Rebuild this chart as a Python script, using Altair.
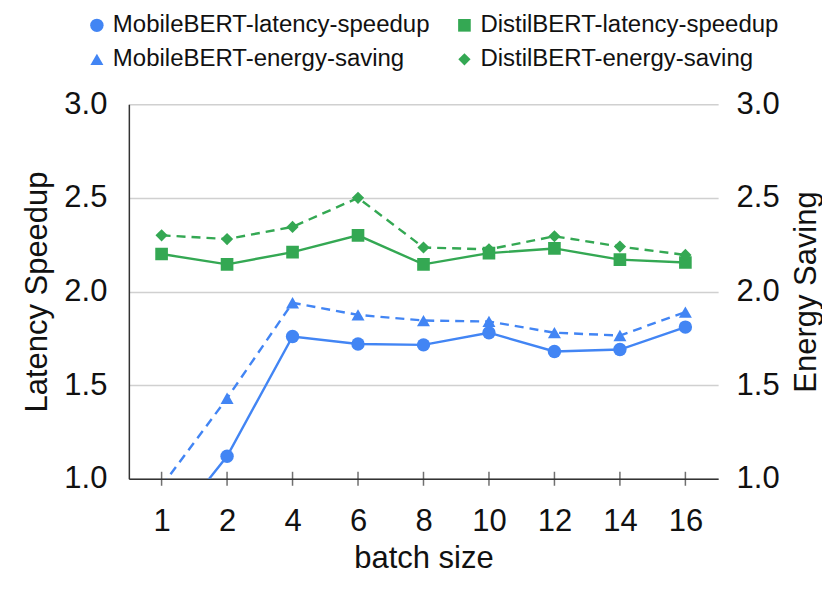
import altair as alt
import pandas as pd

batch = ["1", "2", "4", "6", "8", "10", "12", "14", "16"]
mobile_latency = [0.68, 1.12, 1.76, 1.72, 1.715, 1.78, 1.68, 1.69, 1.81]
distil_latency = [2.20, 2.145, 2.21, 2.30, 2.145, 2.205, 2.23, 2.17, 2.155]
mobile_energy = [0.96, 1.43, 1.94, 1.875, 1.845, 1.84, 1.78, 1.765, 1.89]
distil_energy = [2.30, 2.28, 2.345, 2.50, 2.235, 2.225, 2.295, 2.24, 2.195]

# legend order (filled column by column)
series_names = [
    "MobileBERT-latency-speedup",
    "MobileBERT-energy-saving",
    "DistilBERT-latency-speedup",
    "DistilBERT-energy-saving",
]
colors = ["#4285F4", "#4285F4", "#34A853", "#34A853"]
shapes = ["circle", "triangle-up", "square", "diamond"]
sizes = [180, 150, 75, 320]

rows = []
for name, vals, metric in [
    ("MobileBERT-latency-speedup", mobile_latency, "latency"),
    ("DistilBERT-latency-speedup", distil_latency, "latency"),
    ("MobileBERT-energy-saving", mobile_energy, "energy"),
    ("DistilBERT-energy-saving", distil_energy, "energy"),
]:
    for b, v in zip(batch, vals):
        rows.append({"batch": b, "value": v, "series": name, "metric": metric})
df = pd.DataFrame(rows)
ticks_df = pd.DataFrame({"batch": batch})

FONT = "Liberation Sans"
color_scale = alt.Scale(domain=series_names, range=colors)
shape_scale = alt.Scale(domain=series_names, range=shapes)
size_scale = alt.Scale(domain=series_names, range=sizes)

x_enc = alt.X(
    "batch:O",
    sort=batch,
    scale=alt.Scale(type="point", padding=0.5),
    axis=alt.Axis(
        title="batch size",
        labelAngle=0,
        ticks=False,
        domainColor="#333333",
        domainWidth=1.5,
        labelPadding=28,
        titlePadding=7,
        labelFontSize=31,
        titleFontSize=31,
    ),
)

y_scale = alt.Scale(domain=[1, 3], nice=False, zero=False)
color_enc = alt.Color(
    "series:N",
    scale=color_scale,
    sort=series_names,
    legend=alt.Legend(
        title=None,
        orient="none",
        legendX=-44,
        legendY=-91,
        columns=2,
        columnPadding=22,
        rowPadding=10,
        labelFontSize=24,
        labelLimit=0,
        symbolSize=170,
        symbolStrokeWidth=0,
        labelFont=FONT,
        labelColor="#111111",
    ),
)
shape_enc = alt.Shape("series:N", scale=shape_scale, sort=series_names)
size_enc = alt.Size("series:N", scale=size_scale, legend=None)

left_axis = alt.Axis(
    title="Latency Speedup",
    values=[1.0, 1.5, 2.0, 2.5, 3.0],
    format=".1f",
    ticks=False,
    domainColor="#333333",
    domainWidth=1.5,
    gridColor="#d0d0d0",
    gridWidth=1.5,
    labelPadding=22,
    titlePadding=10,
    labelFontSize=31,
    titleFontSize=31,
)
right_axis = alt.Axis(
    title="Energy Saving",
    orient="right",
    values=[1.0, 1.5, 2.0, 2.5, 3.0],
    format=".1f",
    ticks=False,
    domain=False,
    grid=False,
    labelPadding=18,
    titlePadding=36,
    titleAngle=270,
    titleBaseline="alphabetic",
    labelFontSize=31,
    titleFontSize=31,
)

lat = df[df.metric == "latency"]
eng = df[df.metric == "energy"]

lat_base = alt.Chart(lat).encode(
    x=x_enc,
    y=alt.Y("value:Q", scale=y_scale, axis=left_axis),
    color=color_enc,
)
lat_line = lat_base.mark_line(strokeWidth=2.4, clip=True)
lat_pts = lat_base.mark_point(filled=True, opacity=1, clip=True).encode(
    shape=shape_enc, size=size_enc
)
tick_marks = alt.Chart(ticks_df).mark_tick(
    orient="vertical", size=14, thickness=1.5, color="#333333"
).encode(x=alt.X("batch:O", sort=batch), y=alt.datum(1.0))

eng_base = alt.Chart(eng).encode(
    x=x_enc,
    y=alt.Y("value:Q", scale=y_scale, axis=right_axis),
    color=color_enc,
)
eng_line = eng_base.mark_line(strokeWidth=2.4, strokeDash=[9, 6], clip=True)
eng_pts = eng_base.mark_point(filled=True, opacity=1, clip=True).encode(
    shape=shape_enc, size=size_enc
)

left_layer = alt.layer(lat_line, lat_pts, tick_marks)
right_layer = alt.layer(eng_line, eng_pts)

chart = (
    alt.layer(left_layer, right_layer)
    .resolve_scale(y="independent")
    .properties(
        width=590,
        height=375,
        padding={"left": 13, "top": 5, "right": 0, "bottom": 5},
    )
    .configure(font=FONT)
    .configure_axis(
        labelFont=FONT,
        titleFont=FONT,
        labelColor="#111111",
        titleColor="#111111",
        titleFontWeight="normal",
    )
    .configure_view(stroke=None)
)

chart.save("out.html", embed_options={"renderer": "svg", "actions": False})
